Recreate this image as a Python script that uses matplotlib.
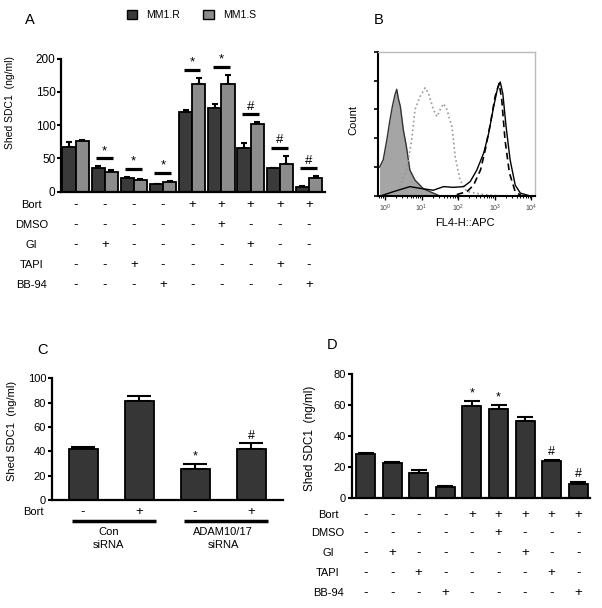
import numpy as np
import matplotlib.pyplot as plt
from matplotlib.patches import Patch
from matplotlib.ticker import LogLocator, NullFormatter

plt.rcParams['font.family'] = ['Liberation Sans', 'DejaVu Sans']

# ---- panel A : MM1.R / MM1.S shed SDC1
mm1r = [67, 36, 20, 11, 120, 126, 66, 35, 7]
mm1r_err = [8, 2, 2, 1, 3, 5, 7, 1, 1]
mm1s = [76, 30, 18, 14, 162, 162, 102, 41, 21]
mm1s_err = [2, 2, 1, 2, 9, 13, 2, 13, 2]
marks_a = ['', '*', '*', '*', '*', '*', '#', '#', '#']

treat_names = ['Bort', 'DMSO', 'GI', 'TAPI', 'BB-94']
treat_table = ['----+++++',
               '-----+---',
               '-+----+--',
               '--+----+-',
               '---+----+']

# ---- panel B : flow histograms (log10 FL4, relative count)
iso_x = [-0.15, -0.05, 0.05, 0.13, 0.2, 0.27, 0.32, 0.37, 0.42, 0.5, 0.58, 0.68, 0.82, 1.05, 1.32, 1.5]
iso_y = [0.20, 0.25, 0.39, 0.52, 0.62, 0.70, 0.74, 0.67, 0.62, 0.46, 0.35, 0.18, 0.11, 0.05, 0.02, 0.0]
dot_x = [0.40, 0.59, 0.73, 0.82, 0.96, 1.10, 1.19, 1.32, 1.42, 1.51, 1.60, 1.69, 1.83, 1.92, 2.05, 2.24, 2.70, 3.15]
dot_y = [0.065, 0.18, 0.39, 0.60, 0.69, 0.75, 0.71, 0.60, 0.55, 0.60, 0.64, 0.60, 0.48, 0.27, 0.11, 0.03, 0.01, 0.0]
sol_x = [-0.13, 0.23, 0.68, 0.96, 1.32, 1.60, 1.87, 2.15, 2.33, 2.51, 2.70, 2.83, 2.97, 3.08, 3.15, 3.22, 3.31, 3.42, 3.56, 3.70, 3.97]
sol_y = [0.0, 0.03, 0.065, 0.053, 0.04, 0.065, 0.06, 0.065, 0.10, 0.18, 0.30, 0.43, 0.62, 0.75, 0.79, 0.71, 0.48, 0.25, 0.075, 0.02, 0.0]
dash_x = [1.96, 2.24, 2.42, 2.61, 2.74, 2.88, 3.01, 3.12, 3.19, 3.28, 3.40, 3.56, 3.74]
dash_y = [0.01, 0.03, 0.075, 0.18, 0.32, 0.50, 0.69, 0.78, 0.67, 0.39, 0.16, 0.03, 0.0]

# ---- panel C : siRNA
sirna_vals = [42, 81, 25.5, 42]
sirna_err = [1.5, 4.5, 4, 4.5]
sirna_bort = ['-', '+', '-', '+']
marks_c = ['', '', '*', '#']
sirna_groups = ['Con\nsiRNA', 'ADAM10/17\nsiRNA']

# ---- panel D : inhibitors
inh_vals = [28.5, 23, 16.5, 7.5, 59.5, 57.5, 50, 24, 9.5]
inh_err = [1, 0.7, 2, 0.7, 3.5, 3, 2.5, 0.7, 1]
marks_d = ['', '', '', '', '*', '*', '', '#', '#']

DARK = '#3a3a3a'
LIGHT = '#8c8c8c'
W, H = 602, 608

fig = plt.figure(figsize=(W / 100, H / 100), dpi=100)


def px_axes(x0, y0, x1, y1):
    return fig.add_axes([x0 / W, 1 - y1 / H, (x1 - x0) / W, (y1 - y0) / H])


def bar_style(ax, fs):
    for s in ['top', 'right']:
        ax.spines[s].set_visible(False)
    for s in ['left', 'bottom']:
        ax.spines[s].set_linewidth(1.6)
    ax.tick_params(axis='y', direction='out', length=3, width=1.5, labelsize=fs, pad=1)
    ax.tick_params(axis='x', length=0, labelbottom=False)


def sign_rows(ax, rows, names, ys, label_x, fs):
    tr = ax.get_xaxis_transform()
    for row, name, y in zip(rows, names, ys):
        ax.text(label_x, y, name, transform=tr, ha='center', va='center', fontsize=fs, clip_on=False)
        for i, s in enumerate(row):
            ax.text(i, y, s, transform=tr, ha='center', va='center', fontsize=fs + 1.5, clip_on=False)


# ================= A
axa = px_axes(61, 58.5, 325, 191.7)
xa = np.arange(len(mm1r))
bw = 0.45
axa.bar(xa - bw / 2, mm1r, bw, color=DARK, edgecolor='black', lw=1.3, zorder=2)
axa.bar(xa + bw / 2, mm1s, bw, color=LIGHT, edgecolor='black', lw=1.3, zorder=2)
axa.errorbar(xa - bw / 2, mm1r, yerr=[np.zeros(len(xa)), mm1r_err], fmt='none', ecolor='black',
             elinewidth=1.5, capsize=2.5, capthick=1.5, zorder=1)
axa.errorbar(xa + bw / 2, mm1s, yerr=[np.zeros(len(xa)), mm1s_err], fmt='none', ecolor='black',
             elinewidth=1.5, capsize=2.5, capthick=1.5, zorder=1)
axa.set_xlim(-0.5, 8.55)
axa.set_ylim(0, 200)
axa.set_yticks([0, 50, 100, 150, 200])
bar_style(axa, 8.5)
tops = np.maximum(np.add(mm1r, mm1r_err), np.add(mm1s, mm1s_err))
for i, m in enumerate(marks_a):
    if m:
        yl = tops[i] + 12
        axa.plot([i - 0.3, i + 0.28], [yl, yl], color='black', lw=2.3, clip_on=False, solid_capstyle='butt')
        axa.text(i - 0.01, yl + 2, m, ha='center', va='bottom', fontsize=9.5)
axa.set_ylabel('Shed SDC1  (ng/ml)', fontsize=7.5)
axa.yaxis.set_label_coords(-0.174, 0.67)
sign_rows(axa, treat_table, treat_names, [-0.1, -0.25, -0.4, -0.55, -0.7], -1.52, 8)

fig.legend(handles=[Patch(fc=DARK, ec='black', lw=1), Patch(fc=LIGHT, ec='black', lw=1)],
           labels=['MM1.R', 'MM1.S'], loc='center', bbox_to_anchor=(0.318, 0.975), ncol=2,
           frameon=False, fontsize=7.5, handlelength=1.0, handleheight=1.0,
           columnspacing=2.2, handletextpad=0.9)

# ================= B
axb = px_axes(377.7, 51.7, 535, 196)
axb.set_xscale('log')
axb.fill_between(10 ** np.array(iso_x), iso_y, color='#a5a5a5', lw=0)
axb.plot(10 ** np.array(iso_x), iso_y, color='#333333', lw=1)
axb.plot(10 ** np.array(dot_x), dot_y, color='#999999', lw=1.2, ls=':')
axb.plot(10 ** np.array(sol_x), sol_y, color='black', lw=1)
axb.plot(10 ** np.array(dash_x), dash_y, color='black', lw=1.2, dashes=(4, 2.5))
axb.set_xlim(10 ** -0.2, 10 ** 4.1)
axb.set_ylim(0, 1)
axb.set_yticks(np.linspace(0, 1, 6))
axb.set_yticklabels([])
axb.xaxis.set_major_locator(LogLocator(base=10, numticks=10))
axb.xaxis.set_minor_locator(LogLocator(base=10, subs=np.arange(2, 10), numticks=10))
axb.xaxis.set_minor_formatter(NullFormatter())
axb.tick_params(axis='x', which='major', labelsize=5, length=3, width=1, labelcolor='#444444', pad=2)
axb.tick_params(axis='x', which='minor', length=1.5, width=0.7)
axb.tick_params(axis='y', length=3, width=1.2)
for s in ['top', 'right']:
    axb.spines[s].set_color('#bbbbbb')
    axb.spines[s].set_linewidth(1)
for s in ['left', 'bottom']:
    axb.spines[s].set_linewidth(1.5)
axb.set_ylabel('Count', fontsize=8)
axb.yaxis.set_label_coords(-0.125, 0.53)
axb.set_xlabel('FL4-H::APC', fontsize=8)
axb.xaxis.set_label_coords(0.555, -0.15)

# ================= C
axc = px_axes(51.7, 378.3, 283, 500)
xc = np.arange(len(sirna_vals))
axc.bar(xc, sirna_vals, 0.52, color='#363636', edgecolor='black', lw=1.3, zorder=2)
axc.errorbar(xc, sirna_vals, yerr=[np.zeros(len(xc)), sirna_err], fmt='none', ecolor='black',
             elinewidth=1.5, capsize=8.5, capthick=1.5, zorder=1)
axc.set_xlim(-0.56, 3.57)
axc.set_ylim(0, 100)
axc.set_yticks([0, 20, 40, 60, 80, 100])
bar_style(axc, 8)
for i, m in enumerate(marks_c):
    if m:
        axc.text(i, sirna_vals[i] + sirna_err[i] + 1.5, m, ha='center', va='bottom', fontsize=9)
axc.set_ylabel('Shed SDC1  (ng/ml)', fontsize=8)
axc.yaxis.set_label_coords(-0.15, 0.567)
sign_rows(axc, [sirna_bort], ['Bort'], [-0.096], -0.89, 8)
trc = axc.get_xaxis_transform()
for k, g in enumerate(sirna_groups):
    axc.plot([2 * k - 0.2, 2 * k + 1.3], [-0.17, -0.17], transform=trc, color='black', lw=2.5,
             clip_on=False, solid_capstyle='butt')
    axc.text(2 * k + 0.5 - 0.05 * (1 - k), -0.22, g, transform=trc, ha='center', va='top',
             fontsize=8, linespacing=1.35)

# ================= D
axd = px_axes(351.7, 374.3, 590, 498.3)
xd = np.arange(len(inh_vals))
axd.bar(xd, inh_vals, 0.71, color='#363636', edgecolor='black', lw=1.3, zorder=2)
axd.errorbar(xd, inh_vals, yerr=[np.zeros(len(xd)), inh_err], fmt='none', ecolor='black',
             elinewidth=1.5, capsize=6, capthick=1.5, zorder=1)
axd.set_xlim(-0.52, 8.44)
axd.set_ylim(0, 80)
axd.set_yticks([0, 20, 40, 60, 80])
bar_style(axd, 8)
for i, m in enumerate(marks_d):
    if m:
        axd.text(i, inh_vals[i] + inh_err[i] + 1, m, ha='center', va='bottom', fontsize=9)
axd.set_ylabel('Shed SDC1  (ng/ml)', fontsize=8.5)
axd.yaxis.set_label_coords(-0.15, 0.486)
sign_rows(axd, treat_table, treat_names, [-0.135, -0.277, -0.439, -0.6, -0.766], -1.41, 8)

# panel letters
for letter, (px, py) in zip('ABCD', [(30, 20), (379, 20), (43, 350), (332, 345)]):
    fig.text(px / W, 1 - py / H, letter, fontsize=10.5, ha='center', va='center')

fig.savefig('out.png', dpi=100)
